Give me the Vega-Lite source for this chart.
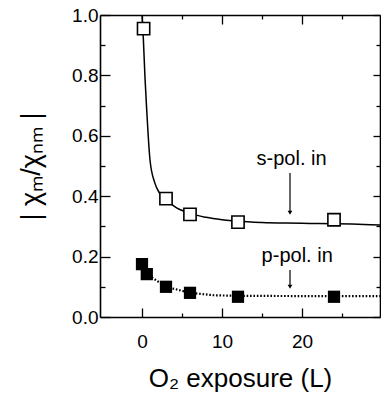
{
  "$schema": "https://vega.github.io/schema/vega-lite/v6.json",
  "width": 280,
  "height": 302,
  "autosize": {"type": "none"},
  "padding": {"left": 100, "top": 15, "right": 1, "bottom": 84},
  "background": "white",
  "config": {
    "view": {"stroke": null},
    "font": "Liberation Sans",
    "axis": {
      "domainColor": "black", "domainWidth": 1.6, "tickColor": "black", "tickWidth": 1.3,
      "labelFont": "Liberation Sans", "labelFontSize": 19, "labelColor": "black",
      "titleFont": "Liberation Sans", "titleColor": "black", "titleFontWeight": "normal",
      "grid": false
    }
  },
  "datasets": {
    "sfit": [
      {"x": 0.0, "y": 1.0}, {"x": 0.17, "y": 0.92}, {"x": 0.37, "y": 0.795}, {"x": 0.59, "y": 0.685},
      {"x": 1.0, "y": 0.52}, {"x": 1.6, "y": 0.444}, {"x": 2.2, "y": 0.41}, {"x": 3, "y": 0.39},
      {"x": 4, "y": 0.367}, {"x": 6, "y": 0.343}, {"x": 8, "y": 0.33}, {"x": 10, "y": 0.322},
      {"x": 12, "y": 0.317}, {"x": 15, "y": 0.313}, {"x": 18, "y": 0.311}, {"x": 21, "y": 0.31},
      {"x": 24, "y": 0.309}, {"x": 27, "y": 0.307}, {"x": 29.75, "y": 0.305}
    ],
    "pfit": [
      {"x": 0, "y": 0.175}, {"x": 0.6, "y": 0.142}, {"x": 3, "y": 0.1}, {"x": 6, "y": 0.08},
      {"x": 9, "y": 0.072}, {"x": 12, "y": 0.07}, {"x": 24, "y": 0.069}, {"x": 29.75, "y": 0.069}
    ],
    "spts": [
      {"x": 0.2, "y": 0.955}, {"x": 3, "y": 0.392}, {"x": 6, "y": 0.34}, {"x": 12, "y": 0.314}, {"x": 24, "y": 0.322}
    ],
    "ppts": [
      {"x": 0, "y": 0.175}, {"x": 0.6, "y": 0.142}, {"x": 3, "y": 0.1}, {"x": 6, "y": 0.08}, {"x": 12, "y": 0.067}, {"x": 24, "y": 0.067}
    ],
    "arrows": [
      {"x": 18.5, "y1": 0.477, "y2": 0.345, "label": "s-pol. in", "tx": 18.7, "ty": 0.503},
      {"x": 18.5, "y1": 0.156, "y2": 0.1, "label": "p-pol. in", "tx": 19.4, "ty": 0.182}
    ]
  },
  "resolve": {"axis": {"x": "independent", "y": "independent"}},
  "layer": [
    {
      "data": {"name": "sfit"},
      "mark": {"type": "line", "color": "black", "strokeWidth": 1.5, "interpolate": "monotone", "clip": true},
      "encoding": {
        "x": {"field": "x", "type": "quantitative", "scale": {"domain": [-5.25, 29.75], "nice": false, "zero": false},
          "axis": {"orient": "bottom", "values": [0, 5, 10, 15, 20, 25], "labelExpr": "datum.value % 10 === 0 ? datum.label : ''",
            "tickSize": {"condition": {"test": "datum.value % 10 === 0", "value": -9}, "value": -4},
            "labelPadding": 24, "title": "O₂ exposure (L)", "titleFontSize": 26, "titlePadding": 14}},
        "y": {"field": "y", "type": "quantitative", "scale": {"domain": [0, 1], "nice": false},
          "axis": {"orient": "left", "values": [0, 0.1, 0.2, 0.3, 0.4, 0.5, 0.6, 0.7, 0.8, 0.9, 1.0], "format": ".1f",
            "labelExpr": "round(datum.value*10) % 2 === 0 ? datum.label : ''",
            "tickSize": {"condition": {"test": "round(datum.value*10) % 2 === 0", "value": -10}, "value": -5},
            "labelPadding": 12, "title": "| χₘ/χₙₘ |", "titleFontSize": 27, "titlePadding": 26}}
      }
    },
    {
      "data": {"name": "pfit"},
      "mark": {"type": "line", "color": "black", "strokeWidth": 2.2, "strokeDash": [1.6, 1.8], "clip": true},
      "encoding": {
        "x": {"field": "x", "type": "quantitative",
          "axis": {"orient": "top", "values": [0, 5, 10, 15, 20, 25], "labels": false, "title": null,
            "tickSize": {"condition": {"test": "datum.value % 10 === 0", "value": -9}, "value": -4}}},
        "y": {"field": "y", "type": "quantitative",
          "axis": {"orient": "right", "values": [0, 0.1, 0.2, 0.3, 0.4, 0.5, 0.6, 0.7, 0.8, 0.9, 1.0], "labels": false, "title": null,
            "tickSize": {"condition": {"test": "round(datum.value*10) % 2 === 0", "value": -7}, "value": -4}}}
      }
    },
    {
      "data": {"name": "arrows"},
      "mark": {"type": "rule", "color": "black", "strokeWidth": 1.2},
      "encoding": {
        "x": {"field": "x", "type": "quantitative", "axis": null},
        "y": {"field": "y1", "type": "quantitative", "axis": null},
        "y2": {"field": "y2"}
      }
    },
    {
      "data": {"name": "arrows"},
      "mark": {"type": "point", "shape": "triangle-down", "filled": true, "color": "black", "size": 22, "opacity": 1},
      "encoding": {
        "x": {"field": "x", "type": "quantitative", "axis": null},
        "y": {"field": "y2", "type": "quantitative", "axis": null}
      }
    },
    {
      "data": {"name": "arrows"},
      "mark": {"type": "text", "fontSize": 20, "baseline": "alphabetic", "align": "center", "color": "black"},
      "encoding": {
        "x": {"field": "tx", "type": "quantitative", "axis": null},
        "y": {"field": "ty", "type": "quantitative", "axis": null},
        "text": {"field": "label"}
      }
    },
    {
      "data": {"name": "spts"},
      "mark": {"type": "point", "shape": "square", "filled": false, "fill": "white", "stroke": "black", "strokeWidth": 1.6, "size": 150, "opacity": 1},
      "encoding": {
        "x": {"field": "x", "type": "quantitative", "axis": null},
        "y": {"field": "y", "type": "quantitative", "axis": null}
      }
    },
    {
      "data": {"name": "ppts"},
      "mark": {"type": "point", "shape": "square", "filled": true, "color": "black", "size": 150, "opacity": 1},
      "encoding": {
        "x": {"field": "x", "type": "quantitative", "axis": null},
        "y": {"field": "y", "type": "quantitative", "axis": null}
      }
    }
  ]
}
